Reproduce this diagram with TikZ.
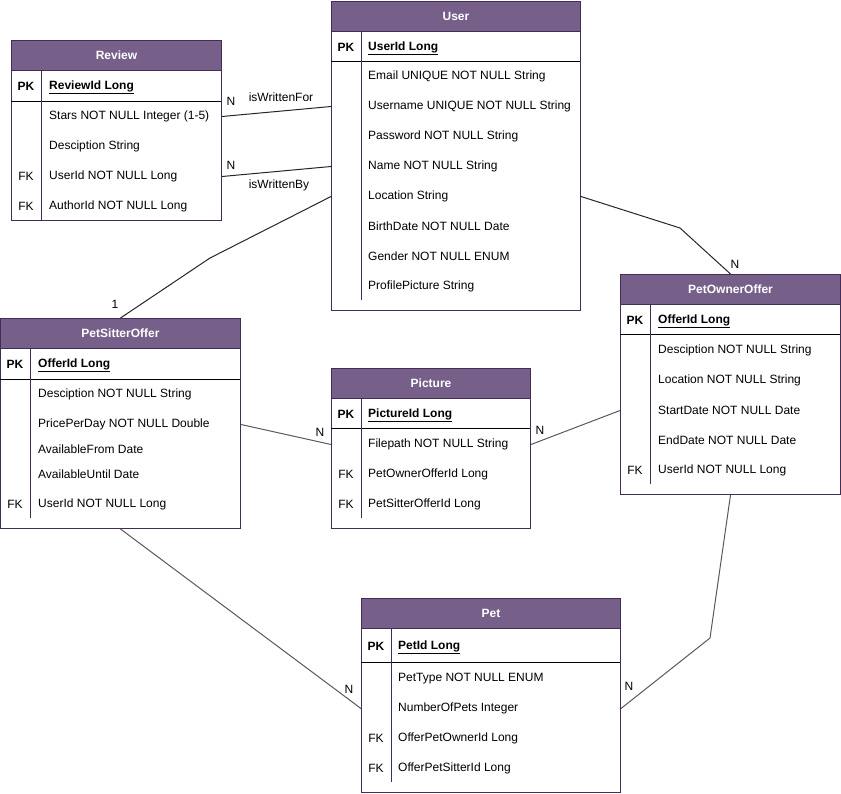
\documentclass[tikz,border=0pt]{standalone}
\usepackage{fontspec}
\setmainfont{Liberation Sans}
\definecolor{head}{HTML}{76608A}
\definecolor{frame}{HTML}{432D57}
\begin{document}
\begin{tikzpicture}[x=1pt,y=-1pt,
  every node/.style={font=\fontsize{12}{14}\selectfont,inner sep=0pt},
  tbl/.style={draw=frame,line width=1pt,fill=white,anchor=north west},
  hdr/.style={draw=frame,line width=1pt,fill=head,text=white,anchor=north west,
    minimum height=30pt,font=\fontsize{12}{14}\selectfont\bfseries},
  sep/.style={line width=1pt,black},
  col/.style={line width=1pt,frame},
  key/.style={yshift=-1.5pt},
  pk/.style={yshift=-1pt,font=\fontsize{12}{14}\selectfont\bfseries},
  field/.style={anchor=west,yshift=-1.5pt},
  lbl/.style={yshift=-1pt},
  rel/.style={line width=1pt,black!85},
  relg/.style={line width=1pt,black!65}]
\useasboundingbox (0,0) rectangle (841,793);
% User
\node[tbl,minimum width=249pt,minimum height=309pt] (user) at (331,1) {};
\node[hdr,minimum width=249pt] (userHead) at (331,1) {User};
\draw[sep] (331,61) -- (580,61);
\draw[col] (361,31) -- (361,300);
\node[pk] (userPK) at (346,46) {PK};
\node[field,pk] (userId) at (368,46) {\underline{UserId Long}};
\foreach \y/\t [count=\i] in {75/Email UNIQUE NOT NULL String,105/Username UNIQUE NOT NULL String,135/Password NOT NULL String,165/Name NOT NULL String,195/Location String,225/BirthDate NOT NULL Date,255/Gender NOT NULL ENUM,285/ProfilePicture String}
  \node[field] (user\i) at (368,\y) {\t};
% Review
\node[tbl,minimum width=210pt,minimum height=180pt] (review) at (11,40) {};
\node[hdr,minimum width=210pt] (reviewHead) at (11,40) {Review};
\draw[sep] (11,101) -- (221,101);
\draw[col] (41,70) -- (41,220);
\node[pk] (reviewPK) at (26,85) {PK};
\node[field,pk] (reviewId) at (49,85) {\underline{ReviewId Long}};
\foreach \y/\t [count=\i] in {115/Stars NOT NULL Integer (1-5),145/Desciption String,175/UserId NOT NULL Long,205/AuthorId NOT NULL Long}
  \node[field] (review\i) at (49,\y) {\t};
\node[key] (reviewFK1) at (26,175) {FK};
\node[key] (reviewFK2) at (26,205) {FK};
% PetSitterOffer
\node[tbl,minimum width=240pt,minimum height=210pt] (sitter) at (0,318) {};
\node[hdr,minimum width=240pt] (sitterHead) at (0,318) {PetSitterOffer};
\draw[sep] (0,379) -- (240,379);
\draw[col] (30,348) -- (30,518);
\node[pk] (sitterPK) at (15,363) {PK};
\node[field,pk] (sitterId) at (38,363) {\underline{OfferId Long}};
\foreach \y/\t [count=\i] in {393/Desciption NOT NULL String,423/PricePerDay NOT NULL Double,448/AvailableFrom Date,473/AvailableUntil Date,503/UserId NOT NULL Long}
  \node[field] (sitter\i) at (38,\y) {\t};
\node[key] (sitterFK) at (15,503) {FK};
% Picture
\node[tbl,minimum width=199pt,minimum height=160pt] (picture) at (331,368) {};
\node[hdr,minimum width=199pt] (pictureHead) at (331,368) {Picture};
\draw[sep] (331,428) -- (530,428);
\draw[col] (361,398) -- (361,518);
\node[pk] (picturePK) at (346,413) {PK};
\node[field,pk] (pictureId) at (368,413) {\underline{PictureId Long}};
\foreach \y/\t [count=\i] in {443/Filepath NOT NULL String,473/PetOwnerOfferId Long,503/PetSitterOfferId Long}
  \node[field] (picture\i) at (368,\y) {\t};
\node[key] (pictureFK1) at (346,473) {FK};
\node[key] (pictureFK2) at (346,503) {FK};
% PetOwnerOffer
\node[tbl,minimum width=220pt,minimum height=220pt] (owner) at (620,274) {};
\node[hdr,minimum width=220pt] (ownerHead) at (620,274) {PetOwnerOffer};
\draw[sep] (620,334) -- (840,334);
\draw[col] (650,304) -- (650,484);
\node[pk] (ownerPK) at (635,319) {PK};
\node[field,pk] (ownerId) at (658,319) {\underline{OfferId Long}};
\foreach \y/\t [count=\i] in {349/Desciption NOT NULL String,379/Location NOT NULL String,409/StartDate NOT NULL Date,439/EndDate NOT NULL Date,469/UserId NOT NULL Long}
  \node[field] (owner\i) at (658,\y) {\t};
\node[key] (ownerFK) at (635,469) {FK};
% Pet
\node[tbl,minimum width=259pt,minimum height=194pt] (pet) at (361,598) {};
\node[hdr,minimum width=259pt] (petHead) at (361,598) {Pet};
\draw[sep] (361,662) -- (620,662);
\draw[col] (391,628) -- (391,782);
\node[pk] (petPK) at (376,645) {PK};
\node[field,pk] (petId) at (398,645) {\underline{PetId Long}};
\foreach \y/\t [count=\i] in {677/PetType NOT NULL ENUM,707/NumberOfPets Integer,737/OfferPetOwnerId Long,767/OfferPetSitterId Long}
  \node[field] (pet\i) at (398,\y) {\t};
\node[key] (petFK1) at (376,737) {FK};
\node[key] (petFK2) at (376,767) {FK};
% relations
\draw[rel] (review.east |- review1) -- (user.west |- user2);
\draw[rel] (review.east |- review3) -- (user.west |- user4);
\draw[rel] (sitter.north) -- (210,258) -- (user.west |- user5);
\draw[rel] (user.east |- user5) -- (680,228) -- (owner.north);
\draw[relg] (sitter.east |- sitter2) -- (picture.west |- picture1);
\draw[relg] (picture.east |- picture1) -- (owner.west |- owner3);
\draw[relg] (sitter.south) -- (pet.west |- pet2);
\draw[relg] (owner.south) -- (710,638) -- (pet.east |- pet2);
\node[lbl] (nFor) at (231,100) {N};
\node[lbl] (writtenFor) at (281,96) {isWrittenFor};
\node[lbl] (nBy) at (231,164) {N};
\node[lbl] (writtenBy) at (279,184) {isWrittenBy};
\node[lbl] (oneSitter) at (115,303) {1};
\node[lbl] (nOwner) at (735,263) {N};
\node[lbl] (nPicSitter) at (320,431) {N};
\node[lbl] (nPicOwner) at (540,429) {N};
\node[lbl] (nPetSitter) at (349,688) {N};
\node[lbl] (nPetOwner) at (629,685) {N};
\end{tikzpicture}
\end{document}
